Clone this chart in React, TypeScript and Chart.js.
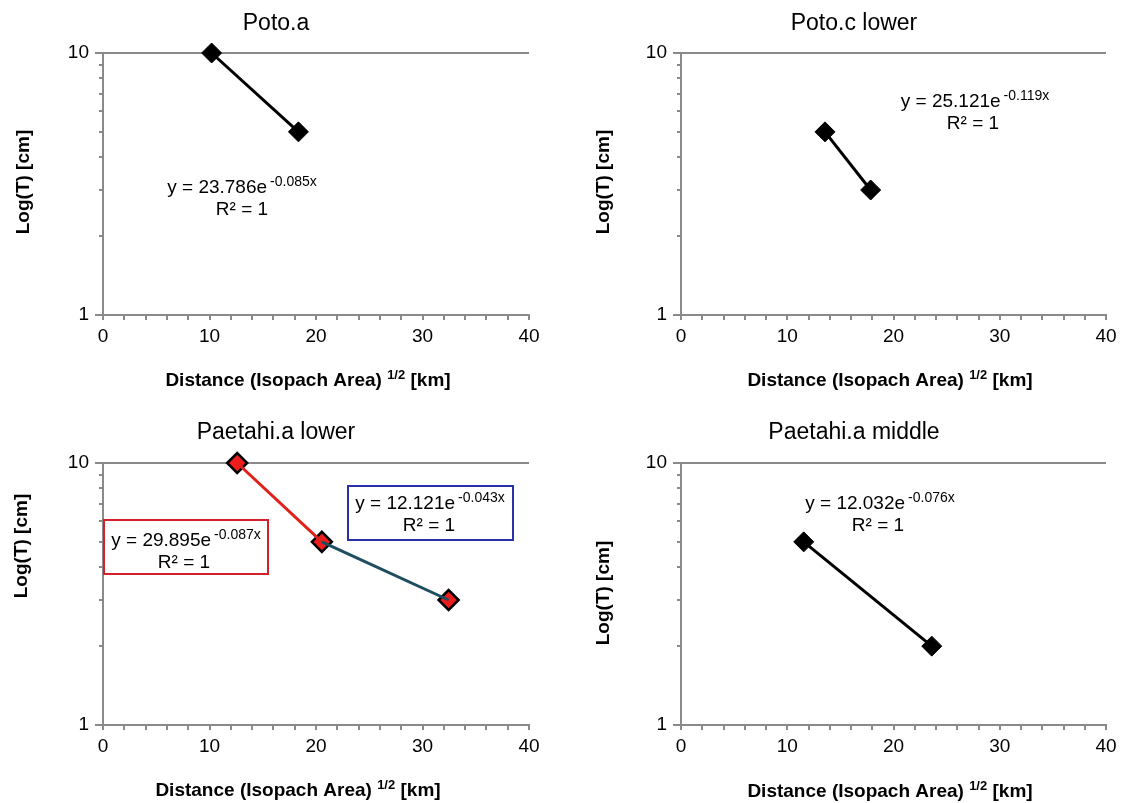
import React, { useEffect, useRef } from 'react';
import { Chart, registerables } from 'chart.js';

Chart.register(...registerables);

// ---------------- data ----------------
const xMin = 0;
const xMax = 40;
const xMajorStep = 10;
const xMinorStep = 2;
const yMin = 1;
const yMax = 10;
const yLabelValues = [1, 10];

const potoA_x = [10.2, 18.35];
const potoA_y = [10, 5];
const potoC_x = [13.55, 17.85];
const potoC_y = [5, 3];
const paeLower_x = [12.6, 20.55, 32.45];
const paeLower_y = [10, 5, 3];
const paeMiddle_x = [11.55, 23.6];
const paeMiddle_y = [5, 2];

const titles = ['Poto.a', 'Poto.c lower', 'Paetahi.a lower', 'Paetahi.a middle'];
const eqCoef = ['23.786', '25.121', '29.895', '12.121', '12.032'];
const eqExp = ['-0.085x', '-0.119x', '-0.087x', '-0.043x', '-0.076x'];
const r2Text = 'R\u00B2 = 1';
const yTitle = 'Log(T) [cm]';
const xTitleMain = 'Distance (Isopach Area) ';
const xTitleSup = '1/2';
const xTitleEnd = ' [km]';

// ---------------- styles / layout ----------------
const W = 1121;
const H = 803;
const CW = 1200; // canvas width (wider than page, clipped by wrapper)
const FONT = '"Liberation Sans", Arial, Helvetica, sans-serif';
const AXIS_COLOR = '#8a8a8a';
const YW = 60;
const XH = 40;

type Box = { color: string; x0: number; y0: number; x1: number; y1: number };
type Ann = { coef: string; exp: string; cx: number; by: number; r2cx: number; r2by: number; box?: Box };
type Series = {
  xs: number[];
  ys: number[];
  line: string | null;
  points: boolean;
  fill: string;
};
type Panel = {
  title: string;
  plot: { l: number; t: number; r: number; b: number };
  titleX: number;
  titleY: number;
  xTitleX: number;
  xTitleY: number;
  yTitleX: number;
  yTitleY: number;
  series: Series[];
  anns: Ann[];
};

const panels: Panel[] = [
  {
    title: titles[0],
    plot: { l: 103, t: 53, r: 529, b: 315 },
    titleX: 276, titleY: 30,
    xTitleX: 308, xTitleY: 386,
    yTitleX: 24, yTitleY: 182,
    series: [{ xs: potoA_x, ys: potoA_y, line: '#000000', points: true, fill: '#000000' }],
    anns: [{ coef: eqCoef[0], exp: eqExp[0], cx: 242, by: 193, r2cx: 242, r2by: 215 }],
  },
  {
    title: titles[1],
    plot: { l: 681, t: 53, r: 1106, b: 315 },
    titleX: 854, titleY: 30,
    xTitleX: 890, xTitleY: 386,
    yTitleX: 604, yTitleY: 182,
    series: [{ xs: potoC_x, ys: potoC_y, line: '#000000', points: true, fill: '#000000' }],
    anns: [{ coef: eqCoef[1], exp: eqExp[1], cx: 975, by: 107, r2cx: 973, r2by: 129 }],
  },
  {
    title: titles[2],
    plot: { l: 103, t: 463, r: 529, b: 725 },
    titleX: 276, titleY: 439,
    xTitleX: 298, xTitleY: 796,
    yTitleX: 22, yTitleY: 546,
    series: [
      { xs: paeLower_x.slice(0, 2), ys: paeLower_y.slice(0, 2), line: '#e0201b', points: false, fill: '#ee1c1c' },
      { xs: paeLower_x.slice(1, 3), ys: paeLower_y.slice(1, 3), line: '#1d4d5e', points: false, fill: '#ee1c1c' },
      { xs: paeLower_x, ys: paeLower_y, line: null, points: true, fill: '#ee1c1c' },
    ],
    anns: [
      {
        coef: eqCoef[2], exp: eqExp[2], cx: 186, by: 546, r2cx: 184, r2by: 568,
        box: { color: '#d4202a', x0: 104, y0: 520, x1: 268, y1: 574 },
      },
      {
        coef: eqCoef[3], exp: eqExp[3], cx: 430, by: 509, r2cx: 429, r2by: 531,
        box: { color: '#2b2fa8', x0: 348, y0: 486, x1: 513, y1: 540 },
      },
    ],
  },
  {
    title: titles[3],
    plot: { l: 681, t: 463, r: 1106, b: 725 },
    titleX: 854, titleY: 439,
    xTitleX: 890, xTitleY: 797,
    yTitleX: 604, yTitleY: 593,
    series: [{ xs: paeMiddle_x, ys: paeMiddle_y, line: '#000000', points: true, fill: '#000000' }],
    anns: [{ coef: eqCoef[4], exp: eqExp[4], cx: 880, by: 509, r2cx: 878, r2by: 531 }],
  },
];

function drawEquation(ctx: CanvasRenderingContext2D, a: Ann) {
  const main = `y = ${a.coef}e`;
  ctx.fillStyle = '#000';
  ctx.textBaseline = 'alphabetic';
  ctx.textAlign = 'left';
  ctx.font = `19px ${FONT}`;
  const w1 = ctx.measureText(main).width;
  ctx.font = `14px ${FONT}`;
  const w2 = ctx.measureText(a.exp).width;
  const gap = 3;
  const x0 = a.cx - (w1 + gap + w2) / 2;
  ctx.font = `19px ${FONT}`;
  ctx.fillText(main, x0, a.by);
  ctx.font = `14px ${FONT}`;
  ctx.fillText(a.exp, x0 + w1 + gap, a.by - 7);
  ctx.font = `19px ${FONT}`;
  ctx.textAlign = 'center';
  ctx.fillText(r2Text, a.r2cx, a.r2by);
  if (a.box) {
    ctx.strokeStyle = a.box.color;
    ctx.lineWidth = 2;
    ctx.strokeRect(a.box.x0, a.box.y0, a.box.x1 - a.box.x0, a.box.y1 - a.box.y0);
  }
}

function makeDecor(p: Panel) {
  return {
    id: 'decor',
    beforeDatasetsDraw(chart: any) {
      const ctx: CanvasRenderingContext2D = chart.ctx;
      const xs = chart.scales.x;
      const ys = chart.scales.y;
      const { left, bottom } = chart.chartArea;
      ctx.save();
      ctx.strokeStyle = AXIS_COLOR;
      ctx.lineWidth = 2;
      ctx.beginPath();
      for (let v = xMin; v <= xMax; v += xMinorStep) {
        const px = Math.round(xs.getPixelForValue(v));
        ctx.moveTo(px, bottom);
        ctx.lineTo(px, bottom + 5);
      }
      ys.ticks
        .filter((t: any) => Number.isInteger(t.value))
        .forEach((t: any) => {
          const py = Math.round(ys.getPixelForValue(t.value));
          const len = yLabelValues.includes(t.value) ? 8 : 4;
          ctx.moveTo(left, py);
          ctx.lineTo(left - len, py);
        });
      ctx.stroke();
      ctx.restore();
    },
    afterDraw(chart: any) {
      const ctx: CanvasRenderingContext2D = chart.ctx;
      ctx.save();
      // title
      ctx.fillStyle = '#000';
      ctx.textAlign = 'center';
      ctx.textBaseline = 'alphabetic';
      ctx.font = `23px ${FONT}`;
      ctx.fillText(p.title, p.titleX, p.titleY);
      // x title with superscript
      const bold = `bold 19px ${FONT}`;
      const boldSup = `bold 13px ${FONT}`;
      ctx.textAlign = 'left';
      ctx.font = bold;
      const w1 = ctx.measureText(xTitleMain).width;
      const w3 = ctx.measureText(xTitleEnd).width;
      ctx.font = boldSup;
      const w2 = ctx.measureText(xTitleSup).width;
      const x0 = p.xTitleX - (w1 + w2 + w3) / 2;
      ctx.font = bold;
      ctx.fillText(xTitleMain, x0, p.xTitleY);
      ctx.fillText(xTitleEnd, x0 + w1 + w2, p.xTitleY);
      ctx.font = boldSup;
      ctx.fillText(xTitleSup, x0 + w1, p.xTitleY - 7);
      // y title
      ctx.save();
      ctx.translate(p.yTitleX, p.yTitleY);
      ctx.rotate(-Math.PI / 2);
      ctx.font = bold;
      ctx.textAlign = 'center';
      ctx.textBaseline = 'middle';
      ctx.fillText(yTitle, 0, 0);
      ctx.restore();
      // annotations
      p.anns.forEach((a) => drawEquation(ctx, a));
      ctx.restore();
    },
  };
}

function buildConfig(p: Panel): any {
  const datasets = p.series.map((s) => ({
    data: s.xs.map((x, i) => ({ x, y: s.ys[i] })),
    showLine: s.line !== null,
    borderColor: s.line || '#000000',
    borderWidth: 3,
    pointStyle: 'rectRot',
    pointRadius: s.points ? 10 : 0,
    pointBackgroundColor: s.fill,
    pointBorderColor: '#000000',
    pointBorderWidth: s.fill === '#000000' ? 1 : 2.5,
    clip: false,
  }));
  return {
    type: 'scatter',
    data: { datasets },
    options: {
      animation: false,
      responsive: false,
      maintainAspectRatio: false,
      devicePixelRatio: 1,
      events: [],
      layout: {
        padding: {
          left: p.plot.l - YW,
          top: p.plot.t,
          right: CW - p.plot.r,
          bottom: H - p.plot.b - XH,
        },
      },
      plugins: {
        legend: { display: false },
        tooltip: { enabled: false },
        title: { display: false },
      },
      scales: {
        x: {
          type: 'linear',
          min: xMin,
          max: xMax,
          afterFit: (s: any) => {
            s.height = XH;
          },
          grid: { display: false, drawTicks: false },
          border: { display: true, color: AXIS_COLOR, width: 2 },
          ticks: {
            stepSize: xMajorStep,
            autoSkip: false,
            maxRotation: 0,
            padding: 10,
            color: '#000',
            font: { family: FONT, size: 19 },
          },
        },
        y: {
          type: 'logarithmic',
          min: yMin,
          max: yMax,
          afterFit: (s: any) => {
            s.width = YW;
          },
          grid: {
            drawTicks: false,
            lineWidth: 2,
            color: (c: any) => (c.tick && c.tick.value === yMax ? AXIS_COLOR : 'rgba(0,0,0,0)'),
          },
          border: { display: true, color: AXIS_COLOR, width: 2 },
          ticks: {
            autoSkip: false,
            padding: 14,
            color: '#000',
            font: { family: FONT, size: 19 },
            callback: (v: any) => (yLabelValues.includes(Number(v)) ? String(v) : ''),
          },
        },
      },
    },
    plugins: [makeDecor(p)],
  };
}

function PanelChart({ panel }: { panel: Panel }) {
  const ref = useRef<HTMLCanvasElement | null>(null);
  useEffect(() => {
    if (!ref.current) return;
    const chart = new Chart(ref.current, buildConfig(panel));
    return () => chart.destroy();
  }, [panel]);
  return (
    <canvas
      ref={ref}
      width={CW}
      height={H}
      style={{ position: 'absolute', left: 0, top: 0, width: CW, height: H, display: 'block' }}
    />
  );
}

export default function App() {
  return (
    <div
      style={{
        position: 'absolute',
        left: 0,
        top: 0,
        width: W,
        height: H,
        background: '#ffffff',
        overflow: 'hidden',
      }}
    >
      {panels.map((p, i) => (
        <PanelChart key={i} panel={p} />
      ))}
    </div>
  );
}
